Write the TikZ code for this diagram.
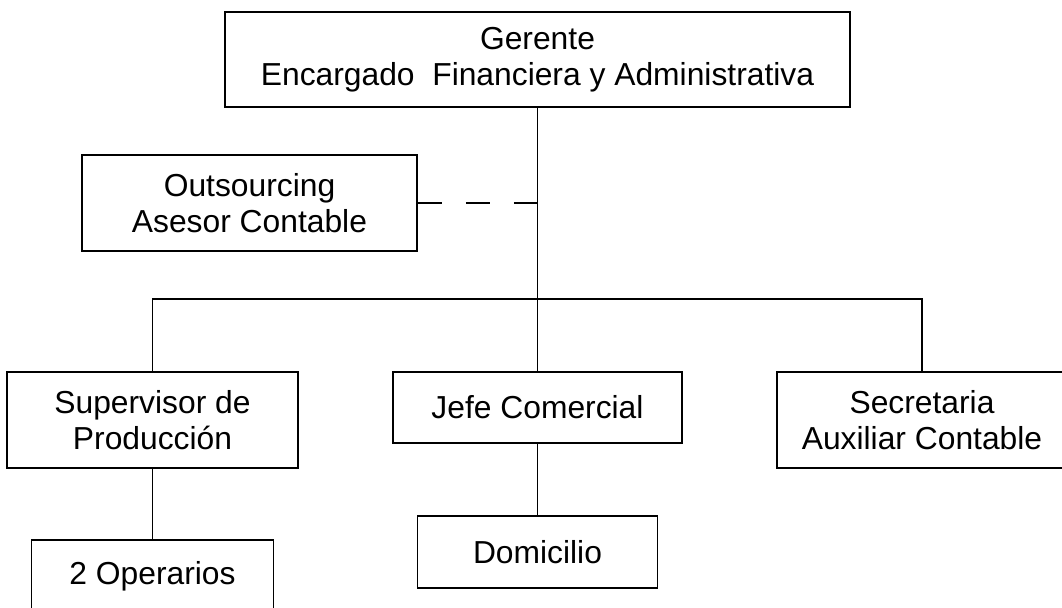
\documentclass[tikz,border=0pt]{standalone}
\usepackage{fontspec}
\setmainfont{Liberation Sans}

\begin{document}
\begin{tikzpicture}[x=0.02cm,y=-0.02cm,line width=1.1pt,
  puesto/.style={draw,align=center,inner sep=0pt,font=\fontsize{18.1}{20.6}\selectfont},
  enlace/.style={dash pattern=on 0.48cm off 0.48cm}]
\useasboundingbox (0,0) rectangle (1062,608);
\node[puesto,minimum width=12.5cm,minimum height=1.9cm] (gerente) at (537.5,59.5)
  {Gerente\\Encargado\ \ Financiera y Administrativa};
\node[puesto,minimum width=6.7cm,minimum height=1.92cm] (outsourcing) at (249.5,203)
  {Outsourcing\\Asesor Contable};
\node[puesto,minimum width=5.82cm,minimum height=1.92cm] (supervisor) at (152.5,420)
  {Supervisor de\\Producción};
\node[puesto,minimum width=5.78cm,minimum height=1.42cm] (jefe) at (537.5,407.5)
  {Jefe Comercial};
\node[puesto,minimum width=5.8cm,minimum height=1.92cm] (secretaria) at (922,420)
  {Secretaria\\Auxiliar Contable};
\node[puesto,minimum width=4.84cm,minimum height=1.44cm] (operarios) at (152.5,576)
  {2 Operarios};
\node[puesto,minimum width=4.8cm,minimum height=1.44cm] (domicilio) at (537.5,552)
  {Domicilio};

\coordinate (bus) at (537.5,299);
\coordinate (asesoria) at (outsourcing.east -| gerente.south);
\draw (gerente.south) -- (bus);
\draw (supervisor.north) |- (bus) -| (secretaria.north);
\draw (bus) -- (jefe.north);
\draw[enlace] (outsourcing.east) -- (asesoria);
\draw (supervisor.south) -- (operarios.north);
\draw (jefe.south) -- (domicilio.north);
\end{tikzpicture}
\end{document}
